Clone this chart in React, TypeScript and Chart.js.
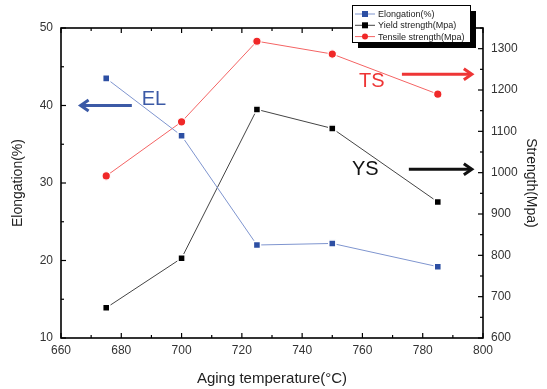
import { useEffect, useRef } from "react";
import { Chart, registerables } from "chart.js";

Chart.register(...registerables);

// ---- data ----
const temperatures = [675, 700, 725, 750, 785];
const elongation = [43.5, 36.1, 22.0, 22.2, 19.2];
const yieldStrength = [673, 793, 1153, 1107, 929];
const tensileStrength = [992, 1123, 1318, 1287, 1190];
const seriesLabels = ["Elongation(%)", "Yield strength(Mpa)", "Tensile strength(Mpa)"];

// ---- ticks ----
const xTickValues = [660, 680, 700, 720, 740, 760, 780, 800];
const leftTickValues = [10, 20, 30, 40, 50];
const rightTickValues = [600, 700, 800, 900, 1000, 1100, 1200, 1300];
const xMinorTicks = [670, 690, 710, 730, 750, 770, 790];
const leftMinorTicks = [15, 25, 35, 45];
const rightMinorTicks = [650, 750, 850, 950, 1050, 1150, 1250, 1350];

// ---- annotations (data coordinates) ----
const annotations = [
  { text: "EL", color: "#3c5aa6", axis: "y", tx: 686.8, ty: 40.1, ax1: 683.5, ax2: 666.5, ay: 40 },
  { text: "TS", color: "#ee3535", axis: "y1", tx: 758.9, ty: 1207, ax1: 773.1, ax2: 796.3, ay: 1238 },
  { text: "YS", color: "#111111", axis: "y1", tx: 756.5, ty: 994, ax1: 775.4, ax2: 796.3, ay: 1008 },
];

const COLORS = {
  elMarker: "#2d4fa3",
  elLine: "#7f95cf",
  ysMarker: "#000000",
  ysLine: "#444444",
  tsMarker: "#f02828",
  tsLine: "#f46464",
};

const FONT = "'Liberation Sans', Arial, sans-serif";

const framePlugin = {
  id: "frame",
  afterDraw(chart: any) {
    const { ctx, chartArea: a, scales } = chart;
    const xs = scales.x, yl = scales.y, yr = scales.y1;
    ctx.save();
    ctx.strokeStyle = "#000";
    ctx.lineWidth = 1.2;
    const line = (x1: number, y1: number, x2: number, y2: number) => {
      ctx.beginPath();
      ctx.moveTo(x1, y1);
      ctx.lineTo(x2, y2);
      ctx.stroke();
    };
    const major = 5, minor = 3;
    xTickValues.forEach((v) => {
      const p = xs.getPixelForValue(v);
      line(p, a.bottom, p, a.bottom - major);
      line(p, a.top, p, a.top + major);
    });
    xMinorTicks.forEach((v) => {
      const p = xs.getPixelForValue(v);
      line(p, a.bottom, p, a.bottom - minor);
      line(p, a.top, p, a.top + minor);
    });
    leftTickValues.forEach((v) => {
      const p = yl.getPixelForValue(v);
      line(a.left, p, a.left + major, p);
    });
    leftMinorTicks.forEach((v) => {
      const p = yl.getPixelForValue(v);
      line(a.left, p, a.left + minor, p);
    });
    rightTickValues.forEach((v) => {
      const p = yr.getPixelForValue(v);
      line(a.right, p, a.right - major, p);
    });
    rightMinorTicks.forEach((v) => {
      const p = yr.getPixelForValue(v);
      line(a.right, p, a.right - minor, p);
    });
    ctx.lineWidth = 1.6;
    ctx.strokeRect(a.left, a.top, a.right - a.left, a.bottom - a.top);

    // annotations
    annotations.forEach((an) => {
      const ys = scales[an.axis];
      const tx = xs.getPixelForValue(an.tx);
      const ty = ys.getPixelForValue(an.ty);
      ctx.fillStyle = an.color;
      ctx.font = `20px ${FONT}`;
      ctx.textAlign = "left";
      ctx.textBaseline = "alphabetic";
      ctx.fillText(an.text, tx, ty);
      const x1 = xs.getPixelForValue(an.ax1);
      const x2 = xs.getPixelForValue(an.ax2);
      const y = ys.getPixelForValue(an.ay);
      const dir = Math.sign(x2 - x1);
      ctx.strokeStyle = an.color;
      ctx.lineWidth = 3;
      ctx.lineCap = "butt";
      ctx.lineJoin = "miter";
      line(x1, y, x2 - dir * 1.5, y);
      ctx.beginPath();
      ctx.moveTo(x2 - dir * 8, y - 5.5);
      ctx.lineTo(x2, y);
      ctx.lineTo(x2 - dir * 8, y + 5.5);
      ctx.stroke();
    });

    // legend box
    const lx = 352, ly = 5, lw = 118, lh = 37;
    ctx.fillStyle = "#000";
    ctx.fillRect(lx + 6, ly + 6, lw, lh);
    ctx.fillStyle = "#fff";
    ctx.fillRect(lx, ly, lw, lh);
    ctx.strokeStyle = "#000";
    ctx.lineWidth = 1;
    ctx.strokeRect(lx + 0.5, ly + 0.5, lw, lh);
    const rows = [
      { label: seriesLabels[0], line: COLORS.elLine, marker: COLORS.elMarker, shape: "rect" },
      { label: seriesLabels[1], line: COLORS.ysLine, marker: COLORS.ysMarker, shape: "rect" },
      { label: seriesLabels[2], line: COLORS.tsLine, marker: COLORS.tsMarker, shape: "circle" },
    ];
    rows.forEach((r, i) => {
      const cy = ly + 9 + i * 11.3;
      ctx.strokeStyle = r.line;
      ctx.lineWidth = 1;
      line(lx + 3, cy, lx + 23, cy);
      ctx.fillStyle = r.marker;
      if (r.shape === "rect") {
        ctx.fillRect(lx + 10, cy - 3, 6, 6);
      } else {
        ctx.beginPath();
        ctx.arc(lx + 13, cy, 3, 0, Math.PI * 2);
        ctx.fill();
      }
      ctx.fillStyle = "#222";
      ctx.font = `9px ${FONT}`;
      ctx.textBaseline = "middle";
      ctx.fillText(r.label, lx + 26, cy + 0.5);
    });
    ctx.restore();
  },
};

export default function App() {
  const ref = useRef<HTMLCanvasElement | null>(null);
  useEffect(() => {
    if (!ref.current) return;
    const pts = (ys: number[]) => temperatures.map((t, i) => ({ x: t, y: ys[i] }));
    const tickFont = { family: FONT, size: 12 };
    const titleFont = { family: FONT, size: 14 };
    const plain = (v: any) => String(v);
    const noGrid = { display: false, drawTicks: false };
    const chart = new Chart(ref.current, {
      type: "line",
      data: {
        datasets: [
          {
            label: seriesLabels[0],
            data: pts(elongation),
            yAxisID: "y",
            borderColor: COLORS.elLine,
            borderWidth: 1,
            pointStyle: "rect",
            pointRadius: 5,
            pointBackgroundColor: COLORS.elMarker,
            pointBorderColor: "#ffffff",
            pointBorderWidth: 1.5,
          },
          {
            label: seriesLabels[1],
            data: pts(yieldStrength),
            yAxisID: "y1",
            borderColor: COLORS.ysLine,
            borderWidth: 1,
            pointStyle: "rect",
            pointRadius: 5,
            pointBackgroundColor: COLORS.ysMarker,
            pointBorderColor: "#ffffff",
            pointBorderWidth: 1.5,
          },
          {
            label: seriesLabels[2],
            data: pts(tensileStrength),
            yAxisID: "y1",
            borderColor: COLORS.tsLine,
            borderWidth: 1,
            pointStyle: "circle",
            pointRadius: 4.2,
            pointBackgroundColor: COLORS.tsMarker,
            pointBorderColor: "#ffffff",
            pointBorderWidth: 1.2,
          },
        ],
      },
      options: {
        responsive: false,
        animation: false,
        layout: { padding: { top: 28, left: 0, right: 0, bottom: 0 } },
        plugins: { legend: { display: false }, tooltip: { enabled: false } },
        scales: {
          x: {
            type: "linear",
            position: "bottom",
            min: 660,
            max: 800,
            grid: noGrid,
            border: { display: false },
            ticks: { font: tickFont, color: "#333", padding: 5, maxRotation: 0, callback: plain },
            afterBuildTicks: (s: any) => {
              s.ticks = xTickValues.map((v) => ({ value: v }));
            },
            afterFit: (s: any) => {
              s.height = 51;
            },
            title: {
              display: true,
              text: "Aging temperature(°C)",
              font: { family: FONT, size: 15 },
              color: "#222",
              padding: { top: 0, bottom: 1 },
            },
          },
          y: {
            type: "linear",
            position: "left",
            min: 10,
            max: 50,
            grid: noGrid,
            border: { display: false },
            ticks: { font: tickFont, color: "#333", padding: 8, callback: plain },
            afterBuildTicks: (s: any) => {
              s.ticks = leftTickValues.map((v) => ({ value: v }));
            },
            afterFit: (s: any) => {
              s.width = 61;
            },
            title: {
              display: true,
              text: "Elongation(%)",
              font: titleFont,
              color: "#222",
              padding: 10,
            },
          },
          y1: {
            type: "linear",
            position: "right",
            min: 600,
            max: 1350,
            grid: noGrid,
            border: { display: false },
            ticks: { font: tickFont, color: "#333", padding: 8, callback: plain },
            afterBuildTicks: (s: any) => {
              s.ticks = rightTickValues.map((v) => ({ value: v }));
            },
            afterFit: (s: any) => {
              s.width = 64;
            },
            title: {
              display: true,
              text: "Strength(Mpa)",
              font: titleFont,
              color: "#222",
              padding: 8,
            },
          },
        },
      },
      plugins: [framePlugin],
    } as any);
    return () => chart.destroy();
  }, []);
  return (
    <div style={{ position: "fixed", left: 0, top: 0, width: 547, height: 389, background: "#fff" }}>
      <canvas ref={ref} width={547} height={389} style={{ display: "block" }} />
    </div>
  );
}
